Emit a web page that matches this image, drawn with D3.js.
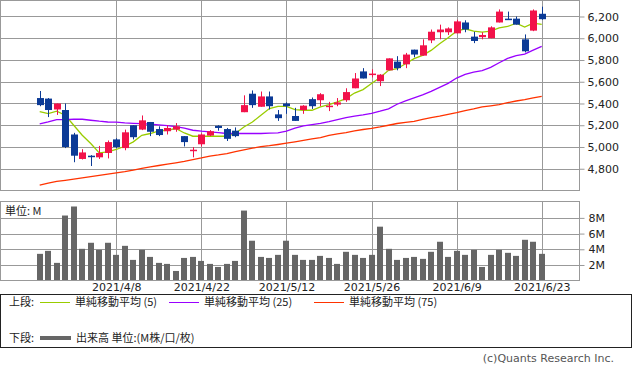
<!DOCTYPE html>
<html>
<head>
<meta charset="utf-8">
<script src="https://cdn.jsdelivr.net/npm/d3@7"></script>
<style>
body { margin: 0; background: #fff; }
svg { display: block; font-family: "DejaVu Sans", sans-serif; }
.jp { font-family: "Noto Sans CJK JP", sans-serif; }
</style>
</head>
<body>
<svg width="633" height="372"></svg>
<script>
// trading days 2021/3/26 - 2021/6/23
var dates = ["2021/3/26","2021/3/29","2021/3/30","2021/3/31","2021/4/1","2021/4/2","2021/4/5","2021/4/6","2021/4/7","2021/4/8",
  "2021/4/9","2021/4/12","2021/4/13","2021/4/14","2021/4/15","2021/4/16","2021/4/19","2021/4/20","2021/4/21","2021/4/22",
  "2021/4/23","2021/4/26","2021/4/27","2021/4/28","2021/4/30","2021/5/6","2021/5/7","2021/5/10","2021/5/11","2021/5/12",
  "2021/5/13","2021/5/14","2021/5/17","2021/5/18","2021/5/19","2021/5/20","2021/5/21","2021/5/24","2021/5/25","2021/5/26",
  "2021/5/27","2021/5/28","2021/5/31","2021/6/1","2021/6/2","2021/6/3","2021/6/4","2021/6/7","2021/6/8","2021/6/9",
  "2021/6/10","2021/6/11","2021/6/14","2021/6/15","2021/6/16","2021/6/17","2021/6/18","2021/6/21","2021/6/22","2021/6/23"];

var opens = [5450,5445,5345,5340,5115,4890,4920,4905,4945,5070,
  4990,5200,5160,5230,5165,5145,5160,5100,4965,5025,
  5105,5195,5165,5150,5320,5490,5370,5465,5300,5400,
  5285,5340,5440,5430,5370,5390,5430,5540,5695,5670,
  5605,5705,5785,5760,5895,5840,5980,6055,6055,6045,
  6145,6015,6010,6000,6145,6180,6180,5990,6070,6225];
var highs = [5515,5450,5400,5400,5130,4980,4925,5010,5060,5080,
  5160,5200,5290,5230,5190,5200,5220,5100,5000,5125,
  5155,5200,5175,5180,5475,5520,5510,5510,5340,5410,
  5360,5385,5455,5495,5415,5450,5540,5680,5725,5715,
  5670,5815,5835,5865,5895,5990,6080,6125,6100,6170,
  6165,6060,6055,6110,6265,6245,6200,6035,6265,6290];
var lows = [5375,5275,5295,4990,4860,4885,4825,4890,4895,4990,
  4970,5070,5155,5100,5100,5115,5140,5005,4905,5005,
  5100,5150,5055,5090,5320,5360,5370,5345,5240,5305,
  5240,5305,5350,5375,5330,5375,5415,5540,5630,5640,
  5560,5705,5705,5725,5825,5840,5955,5990,6030,6045,
  6055,5955,5990,6000,6145,6170,6125,5870,6065,6170];
var closes = [5385,5340,5400,5000,4920,4950,4910,4945,5045,5000,
  5135,5090,5245,5140,5110,5175,5190,5045,4975,5115,
  5145,5175,5075,5100,5385,5385,5465,5375,5265,5375,
  5240,5380,5375,5485,5380,5410,5505,5630,5630,5675,
  5665,5815,5725,5850,5850,5935,6060,6080,6090,6155,
  6080,5975,6030,6100,6245,6175,6125,5880,6255,6175];

// volume, millions
var volumes = [3.42,3.8,2.27,8.3,9.45,4.06,4.83,3.93,4.83,3.29,
  4.44,2.65,3.93,3.03,2.27,2.14,1.24,2.9,3.03,2.52,
  2.14,1.75,2.14,2.52,8.93,5.09,3.03,2.9,3.29,5.09,
  3.29,2.65,2.65,3.16,2.9,2.14,3.68,3.29,2.9,3.29,
  6.88,4.06,2.65,2.9,3.03,2.78,3.68,4.96,3.03,3.8,
  3.29,3.93,1.75,3.29,3.93,3.55,3.16,5.21,4.96,3.42];

var ma5 = [5326,5307,5329,5292,5200,5108,5032,4946,4955,4977,
  5007,5047,5108,5124,5148,5154,5170,5129,5099,5099,
  5099,5099,5099,5124,5184,5230,5292,5353,5374,5374,
  5344,5338,5338,5368,5390,5414,5445,5496,5528,5583,
  5638,5705,5720,5766,5812,5842,5888,5950,6005,6065,
  6087,6065,6056,6065,6096,6108,6139,6102,6139,6127];
var ma25 = [5212,5230,5252,5252,5255,5255,5246,5237,5230,5228,
  5221,5218,5214,5209,5203,5197,5188,5173,5154,5145,
  5139,5133,5124,5124,5124,5124,5124,5127,5129,5145,
  5173,5194,5206,5218,5234,5252,5271,5283,5295,5310,
  5329,5350,5393,5425,5452,5480,5512,5549,5585,5634,
  5668,5689,5702,5732,5775,5815,5840,5854,5891,5925];
var ma75 = [4650,4668,4684,4694,4705,4717,4728,4740,4751,4762,
  4773,4787,4803,4818,4830,4842,4855,4867,4884,4899,
  4916,4927,4940,4957,4973,4989,5003,5012,5023,5035,
  5047,5060,5074,5087,5106,5120,5133,5148,5161,5171,
  5184,5200,5216,5226,5235,5255,5271,5283,5301,5317,
  5335,5350,5368,5379,5390,5407,5423,5436,5451,5466];

var priceTicks = [4800,5000,5200,5400,5600,5800,6000,6200];
var volTicks = [2,4,6,8];
var dateTicks = ["2021/4/8","2021/4/22","2021/5/12","2021/5/26","2021/6/9","2021/6/23"];

var maNames = ["単純移動平均 (5)","単純移動平均 (25)","単純移動平均 (75)"];
var maColors = ["#99cc00","#9900ff","#ff3300"];

var svg = d3.select("svg");
var gridColor = "#999";
var plotRight = 579.5;

var x = d3.scalePoint().domain(dates).range([39.7, 541.7]);
var y = d3.scaleLinear().domain([4600, 6347]).range([190.5, 0.5]);
var yv = d3.scaleLinear().domain([0, 10.15]).range([280.7, 201]);

var px = function(v){ return Math.round(v) + 0.5; };
function candleColor(i){ return closes[i] >= opens[i] ? "#f2124a" : "#0b3a96"; }

// ---- upper panel grid
var upper = svg.append("g");
upper.selectAll(".hg").data(priceTicks).enter().append("line")
  .attr("x1", 0).attr("x2", plotRight)
  .attr("y1", function(d){ return px(y(d)); }).attr("y2", function(d){ return px(y(d)); })
  .attr("stroke", gridColor);
upper.selectAll(".vg").data(dateTicks).enter().append("line")
  .attr("x1", function(d){ return px(x(d)); }).attr("x2", function(d){ return px(x(d)); })
  .attr("y1", 0).attr("y2", 190.5)
  .attr("stroke", gridColor);
upper.append("rect").attr("x", 0.5).attr("y", 0.5).attr("width", plotRight - 0.5).attr("height", 190)
  .attr("fill", "none").attr("stroke", gridColor);

var yAxis = d3.axisRight(y).tickValues(priceTicks).tickSize(5).tickPadding(3).tickFormat(d3.format(","));
upper.append("g").attr("transform", "translate(" + plotRight + ",0)").call(yAxis)
  .call(function(g){
    g.select(".domain").remove();
    g.selectAll("line").attr("stroke", gridColor);
    g.selectAll("text").attr("font-size", 11).attr("fill", "#222").attr("font-family", "DejaVu Sans");
  });

// ---- moving averages
[ma5, ma25, ma75].forEach(function(arr, k){
  var line = d3.line().x(function(d, i){ return x(dates[i]); }).y(function(d){ return y(d); });
  upper.append("path").datum(arr).attr("d", line)
    .attr("fill", "none").attr("stroke", maColors[k]).attr("stroke-width", 1.3);
});

// ---- candles
var candles = upper.selectAll(".candle").data(dates).enter().append("g");
candles.append("line")
  .attr("x1", function(d){ return px(x(d)); }).attr("x2", function(d){ return px(x(d)); })
  .attr("y1", function(d, i){ return y(highs[i]); }).attr("y2", function(d, i){ return y(lows[i]); })
  .attr("stroke", function(d, i){ return candleColor(i); });
candles.append("rect")
  .attr("x", function(d){ return Math.round(x(d)) - 3; })
  .attr("width", 7)
  .attr("y", function(d, i){ return y(Math.max(opens[i], closes[i])); })
  .attr("height", function(d, i){ return Math.max(1.5, y(Math.min(opens[i], closes[i])) - y(Math.max(opens[i], closes[i]))); })
  .attr("fill", function(d, i){ return candleColor(i); });

// ---- volume panel
var vol = svg.append("g");
vol.selectAll(".hg").data(volTicks).enter().append("line")
  .attr("x1", 0).attr("x2", plotRight)
  .attr("y1", function(d){ return px(yv(d)); }).attr("y2", function(d){ return px(yv(d)); })
  .attr("stroke", gridColor);
vol.selectAll(".vg").data(dateTicks).enter().append("line")
  .attr("x1", function(d){ return px(x(d)); }).attr("x2", function(d){ return px(x(d)); })
  .attr("y1", 201).attr("y2", 281)
  .attr("stroke", gridColor);

vol.selectAll(".bar").data(volumes).enter().append("rect")
  .attr("x", function(d, i){ return Math.round(x(dates[i])) - 3; })
  .attr("width", 6)
  .attr("y", function(d){ return yv(d); })
  .attr("height", function(d){ return yv(0) - yv(d); })
  .attr("fill", "#666");

vol.append("rect").attr("x", 0.5).attr("y", 201.5).attr("width", plotRight - 0.5).attr("height", 79)
  .attr("fill", "none").attr("stroke", gridColor);

var vAxis = d3.axisRight(yv).tickValues(volTicks).tickSize(5).tickPadding(4).tickFormat(function(d){ return d + "M"; });
vol.append("g").attr("transform", "translate(" + plotRight + ",0)").call(vAxis)
  .call(function(g){
    g.select(".domain").remove();
    g.selectAll("line").attr("stroke", gridColor);
    g.selectAll("text").attr("font-size", 11).attr("fill", "#222").attr("font-family", "DejaVu Sans");
  });

vol.append("text").attr("class", "jp").attr("x", 5).attr("y", 215)
  .attr("font-size", 11).attr("fill", "#222").text("単位: M");

var xAxis = d3.axisBottom(x).tickValues(dateTicks).tickSize(0).tickPadding(2);
svg.append("g").attr("transform", "translate(0,281)").call(xAxis)
  .call(function(g){
    g.select(".domain").remove();
    g.selectAll("text").attr("font-size", 11).attr("fill", "#222").attr("font-family", "DejaVu Sans");
  });

// ---- legend
var leg = svg.append("g");
leg.append("rect").attr("x", 0.5).attr("y", 294.5).attr("width", 631).attr("height", 53)
  .attr("fill", "none").attr("stroke", "#222");
leg.append("text").attr("class", "jp").attr("x", 9).attr("y", 306).attr("font-size", 11).attr("fill", "#222").text("上段:");
var legX = [40, 169, 314];
maNames.forEach(function(n, k){
  leg.append("line").attr("x1", legX[k]).attr("x2", legX[k] + 30).attr("y1", 302.5).attr("y2", 302.5)
    .attr("stroke", maColors[k]);
  leg.append("text").attr("class", "jp").attr("x", legX[k] + 35).attr("y", 306)
    .attr("font-size", 11).attr("fill", "#222").text(n);
});
leg.append("text").attr("class", "jp").attr("x", 9).attr("y", 342).attr("font-size", 11).attr("fill", "#222").text("下段:");
leg.append("line").attr("x1", 40).attr("x2", 71).attr("y1", 338).attr("y2", 338)
  .attr("stroke", "#666").attr("stroke-width", 4);
leg.append("text").attr("class", "jp").attr("x", 76).attr("y", 342)
  .attr("font-size", 11).attr("fill", "#222").text("出来高 単位:(M株/口/枚)");

svg.append("text").attr("x", 614).attr("y", 362).attr("text-anchor", "end")
  .attr("font-size", 11).attr("fill", "#555").attr("font-family", "DejaVu Sans")
  .text("(c)Quants Research Inc.");
</script>
</body>
</html>
